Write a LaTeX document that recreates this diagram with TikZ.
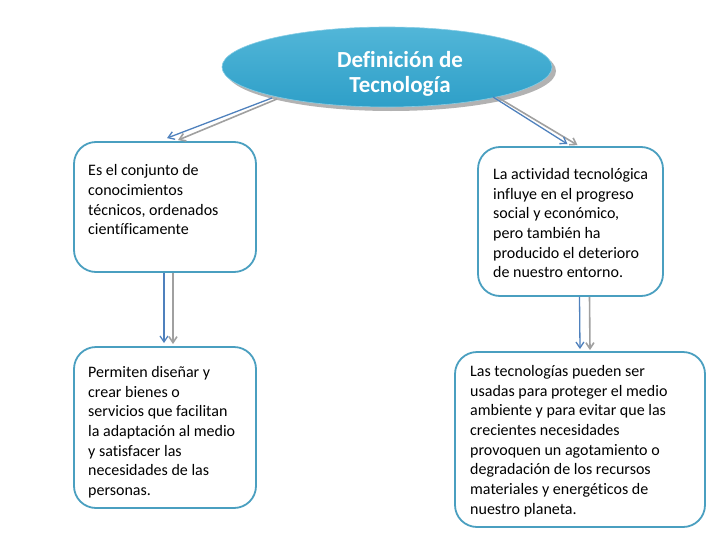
\documentclass[tikz,border=0pt]{standalone}
\usepackage{fontspec}
\setmainfont{Carlito}[Ligatures=CommonOff]
\usetikzlibrary{arrows.meta,shapes.geometric,calc}
\definecolor{boxline}{HTML}{4A9FC0}
\definecolor{arrblue}{HTML}{4F81BD}
\definecolor{arrgray}{HTML}{A0A0A0}
\definecolor{elltop}{HTML}{52B6D8}
\definecolor{ellbot}{HTML}{2E9FC8}
\tikzset{
  box/.style={draw=boxline, line width=1.8pt, rounded corners=22pt, fill=white, inner sep=0pt},
  boxtext/.style={anchor=north west, inner sep=0pt, align=left, font=\fontsize{16}{19.7}\selectfont, text=black},
  arrb/.style={draw=arrblue, line width=1.3pt, -{Straight Barb[length=6pt,width=8pt]}},
  arrg/.style={draw=arrgray, line width=1.6pt, -{Straight Barb[length=6pt,width=8pt]}},
}
\begin{document}
\begin{tikzpicture}[x=1pt,y=-1pt]
\useasboundingbox (0,0) rectangle (728,546);
% ellipse with shadow
\node[ellipse, fill=gray!60, minimum width=330pt, minimum height=80pt, inner sep=0pt] (esh) at (391,71) {};
\node[ellipse, top color=elltop, bottom color=ellbot, draw=elltop!70!white, line width=0.6pt, minimum width=330pt, minimum height=80pt, inner sep=0pt] (ell) at (387,67) {};
\node[align=center, text=white, font=\fontsize{23}{25}\selectfont\bfseries] (title) at (400,74) {Definición de\\Tecnología};
% boxes
\node[box, minimum width=182pt, minimum height=130pt] (b1) at (165,207) {};
\node[box, minimum width=182pt, minimum height=161pt] (b2) at (165,427.5) {};
\node[box, minimum width=185pt, minimum height=149pt] (b3) at (570.5,221.5) {};
\node[box, minimum width=250pt, minimum height=175pt] (b4) at (580,439.5) {};
\node[boxtext] (t1) at (88,164.5) {Es el conjunto de\\conocimientos\\técnicos, ordenados\\científicamente};
\node[boxtext] (t2) at (88,366) {Permiten diseñar y\\crear bienes o\\servicios que facilitan\\la adaptación al medio\\y satisfacer las\\necesidades de las\\personas.};
\node[boxtext] (t3) at (493,168) {La actividad tecnológica\\influye en el progreso\\social y económico,\\pero también ha\\producido el deterioro\\de nuestro entorno.};
\node[boxtext] (t4) at (470,365) {Las tecnologías pueden ser\\usadas para proteger el medio\\ambiente y para evitar que las\\crecientes necesidades\\provoquen un agotamiento o\\degradación de los recursos\\materiales y energéticos de\\nuestro planeta.};
% arrows
\draw[arrg] ($(ell.center)+(-110,32)$) -- ($(b1.north)+(13,-1)$);
\draw[arrb] ($(ell.center)+(-115,31)$) -- ($(b1.north)+(2,-3)$);
\draw[arrg] ($(ell.center)+(110,30)$) -- ($(b3.north)+(7,-1)$);
\draw[arrb] ($(ell.center)+(106,30)$) -- ($(b3.north)+(-3,-2)$);
\draw[arrg] ($(b1.south)+(8,0)$) -- ($(b2.north)+(8,-2)$);
\draw[arrb] ($(b1.south)+(-1,0)$) -- ($(b2.north)+(-1,-3)$);
\draw[arrg] ($(b3.south)+(19,0)$) -- ($(b4.north)+(10,-1)$);
\draw[arrb] ($(b3.south)+(9,0)$) -- ($(b4.north)+(0,-2)$);
\end{tikzpicture}
\end{document}
